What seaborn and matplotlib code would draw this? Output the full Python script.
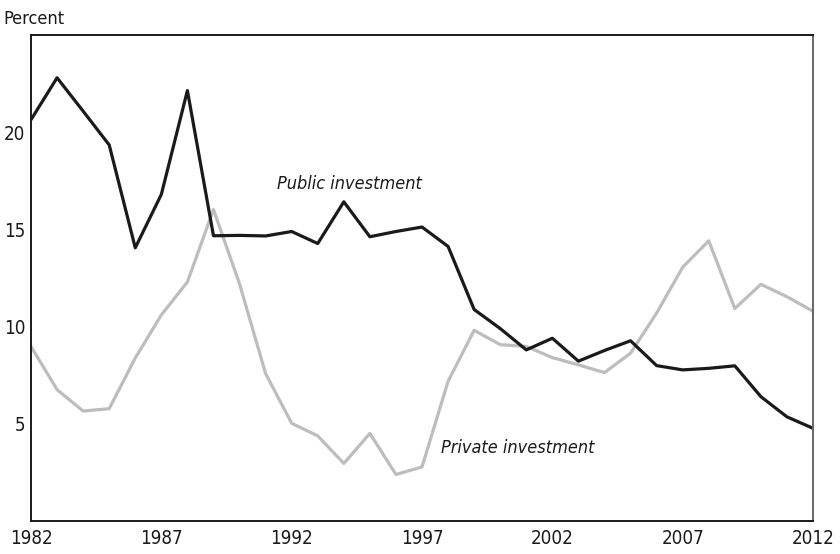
import numpy as np
import pandas as pd
import seaborn as sns
import matplotlib.pyplot as plt

# Values (percent)
years = list(range(1982, 2013))
public_inv = [20.66, 22.82, 21.1, 19.36, 14.06, 16.81, 22.16, 14.68, 14.7, 14.67,
              14.9, 14.28, 16.43, 14.63, 14.9, 15.13, 14.13, 10.88, 9.9, 8.8,
              9.4, 8.22, 8.77, 9.27, 7.99, 7.77, 7.85, 7.98, 6.39, 5.35, 4.76]
private_inv = [8.98, 6.75, 5.65, 5.77, 8.38, 10.6, 12.3, 16.03, 12.2, 7.58,
               5.02, 4.37, 2.95, 4.5, 2.38, 2.77, 7.18, 9.81, 9.07, 8.98,
               8.4, 8.03, 7.63, 8.63, 10.7, 13.06, 14.42, 10.93, 12.18, 11.54, 10.79]
x_ticks = [1982, 1987, 1992, 1997, 2002, 2007, 2012]
y_ticks = [5, 10, 15, 20]

df = pd.DataFrame({"year": years, "Public investment": public_inv,
                   "Private investment": private_inv})

sns.set_style("white")
plt.rcParams['font.family'] = ['DejaVu Sans']
plt.rcParams['font.stretch'] = 'condensed'

fig = plt.figure(figsize=(8.4, 5.54), dpi=100)
ax = fig.add_axes([0.0369, 0.0601, 0.931, 0.8759])

sns.lineplot(data=df, x="year", y="Private investment", color="#bdbdbd", linewidth=2.3, ax=ax)
sns.lineplot(data=df, x="year", y="Public investment", color="#1a1a1a", linewidth=2.3, ax=ax)

ax.set_xlim(1982, 2012)
ax.set_ylim(0, 25)
ax.set_xticks(x_ticks)
ax.set_yticks(y_ticks)
ax.set_xlabel("")
ax.set_ylabel("")
ax.tick_params(axis="both", direction="in", length=7, width=1.2, colors="#1a1a1a",
               labelsize=13.5, labelcolor="#1a1a1a")
ax.tick_params(axis="x", pad=6)
ax.tick_params(axis="y", pad=4)
for side in ["left", "bottom", "top"]:
    ax.spines[side].set_color("#1a1a1a")
    ax.spines[side].set_linewidth(1.4)
ax.spines["right"].set_color("#666666")
ax.spines["right"].set_linewidth(1.4)

ax.text(1991.44, 17.33, "Public investment", style="italic", fontsize=13,
        va="center", ha="left", color="#1a1a1a")
ax.text(1997.73, 3.74, "Private investment", style="italic", fontsize=13,
        va="center", ha="left", color="#1a1a1a")
fig.text(0.004, 0.966, "Percent", fontsize=13, va="center", ha="left", color="#1a1a1a")

fig.savefig("out.png", dpi=100)
